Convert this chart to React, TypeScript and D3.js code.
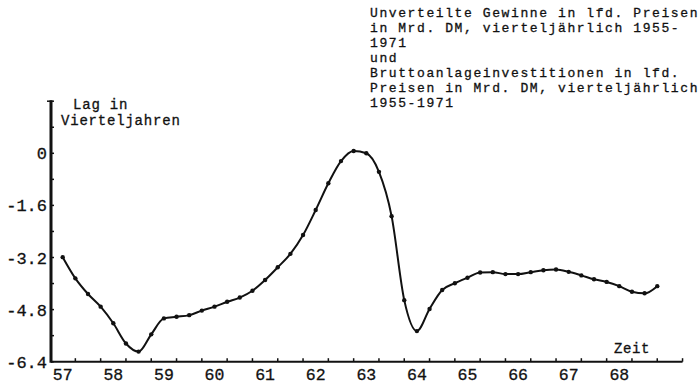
import React from "react";
import * as d3 from "d3";

const startYear = 57;
const lagValues = [
  -3.19, -3.84, -4.32, -4.71, -5.22, -5.84, -6.09, -5.56, -5.07, -5.02, -4.97, -4.83,
  -4.71, -4.56, -4.43, -4.22, -3.89, -3.5, -3.09, -2.51, -1.74, -0.92, -0.24, 0.07,
  0.0, -0.57, -1.93, -4.51, -5.46, -4.78, -4.2, -3.99, -3.82, -3.66, -3.65, -3.71,
  -3.71, -3.65, -3.59, -3.57, -3.64, -3.75, -3.87, -3.95, -4.08, -4.25, -4.3, -4.08,
];
const yTickLabels = ["0", "-1.6", "-3.2", "-4.8", "-6.4"];
const yTickValues = [0, -1.6, -3.2, -4.8, -6.4];
const xTickLabels = ["57", "58", "59", "60", "61", "62", "63", "64", "65", "66", "67", "68"];
const titleLines = [
  "Unverteilte Gewinne in lfd. Preisen",
  "in Mrd. DM, vierteljährlich 1955-",
  "1971",
  "und",
  "Bruttoanlageinvestitionen in lfd.",
  "Preisen in Mrd. DM, vierteljährlich",
  "1955-1971",
];
const yAxisTitle = ["Lag in", "Vierteljahren"];
const xAxisTitle = "Zeit";

const FONT = "'Liberation Mono', 'DejaVu Sans Mono', monospace";

export default function App() {
  const W = 700, H = 385;
  const x = d3.scaleLinear().domain([57, 69]).range([62.7, 669.9]);
  const y = d3.scaleLinear().domain([-6.4, 1.6]).range([361.7, 101.2]);
  const pts = lagValues.map((v, i) => ({ t: startYear + i / 4, v }));
  const line = d3
    .line<{ t: number; v: number }>()
    .x((d) => x(d.t))
    .y((d) => y(d.v))
    .curve(d3.curveMonotoneX);
  const yMinor = d3.range(-6.4, 1.61, 0.8);
  const xMinor = d3.range(-1, 50, 2).map((i) => startYear + i / 4).filter((t) => x(t) > 52);
  const axisX0 = 51;
  const axisXEnd = x(startYear + 49 / 4);

  return (
    <svg
      width={W}
      height={H}
      style={{ position: "absolute", left: 0, top: 0, background: "#fff" }}
      fontFamily={FONT}
    >
      <rect width={W} height={H} fill="#fff" />
      {/* y axis */}
      <line x1={axisX0} x2={axisX0} y1={y(1.6) - 1} y2={y(-6.4) + 1} stroke="#111" strokeWidth={3} />
      {yMinor.map((v, i) => (
        <line key={i} x1={axisX0} x2={axisX0 + 3} y1={y(v)} y2={y(v)} stroke="#111" strokeWidth={1.5} />
      ))}
      <line x1={axisX0 - 4} x2={axisX0} y1={y(1.6)} y2={y(1.6)} stroke="#111" strokeWidth={1.5} />
      {yTickValues.map((v, i) => (
        <text key={i} x={47} y={y(v) + 6} textAnchor="end" fontSize={17} fill="#111" stroke="#111" strokeWidth={0.3}>
          {yTickLabels[i]}
        </text>
      ))}
      {/* x axis */}
      <line x1={axisX0} x2={axisXEnd} y1={y(-6.4)} y2={y(-6.4)} stroke="#111" strokeWidth={2} />
      {xMinor.map((t, i) => (
        <line key={i} x1={x(t)} x2={x(t)} y1={y(-6.4)} y2={y(-6.4) - 3.5} stroke="#111" strokeWidth={1.5} />
      ))}
      {xTickLabels.map((lab, i) => (
        <text key={lab} x={x(startYear + i)} y={380} textAnchor="middle" fontSize={16.5} fill="#111" stroke="#111" strokeWidth={0.3}>
          {lab}
        </text>
      ))}
      <text x={614} y={353} fontSize={14} letterSpacing={0.6} fill="#111" stroke="#111" strokeWidth={0.3}>{xAxisTitle}</text>
      {yAxisTitle.map((s, i) => (
        <text key={s} x={i === 0 ? 73 : 61} y={109 + i * 16} fontSize={14} letterSpacing={0.8} fill="#111" stroke="#111" strokeWidth={0.3}>
          {s}
        </text>
      ))}
      {titleLines.map((s, i) => (
        <text key={i} x={370} y={17 + i * 15} fontSize={13} letterSpacing={1.6} fill="#111" stroke="#111" strokeWidth={0.3}>
          {s}
        </text>
      ))}
      {/* data */}
      <path d={line(pts) ?? ""} fill="none" stroke="#111" strokeWidth={2} />
      {pts.map((d, i) => (
        <circle key={i} cx={x(d.t)} cy={y(d.v)} r={2.2} fill="#111" />
      ))}
    </svg>
  );
}
